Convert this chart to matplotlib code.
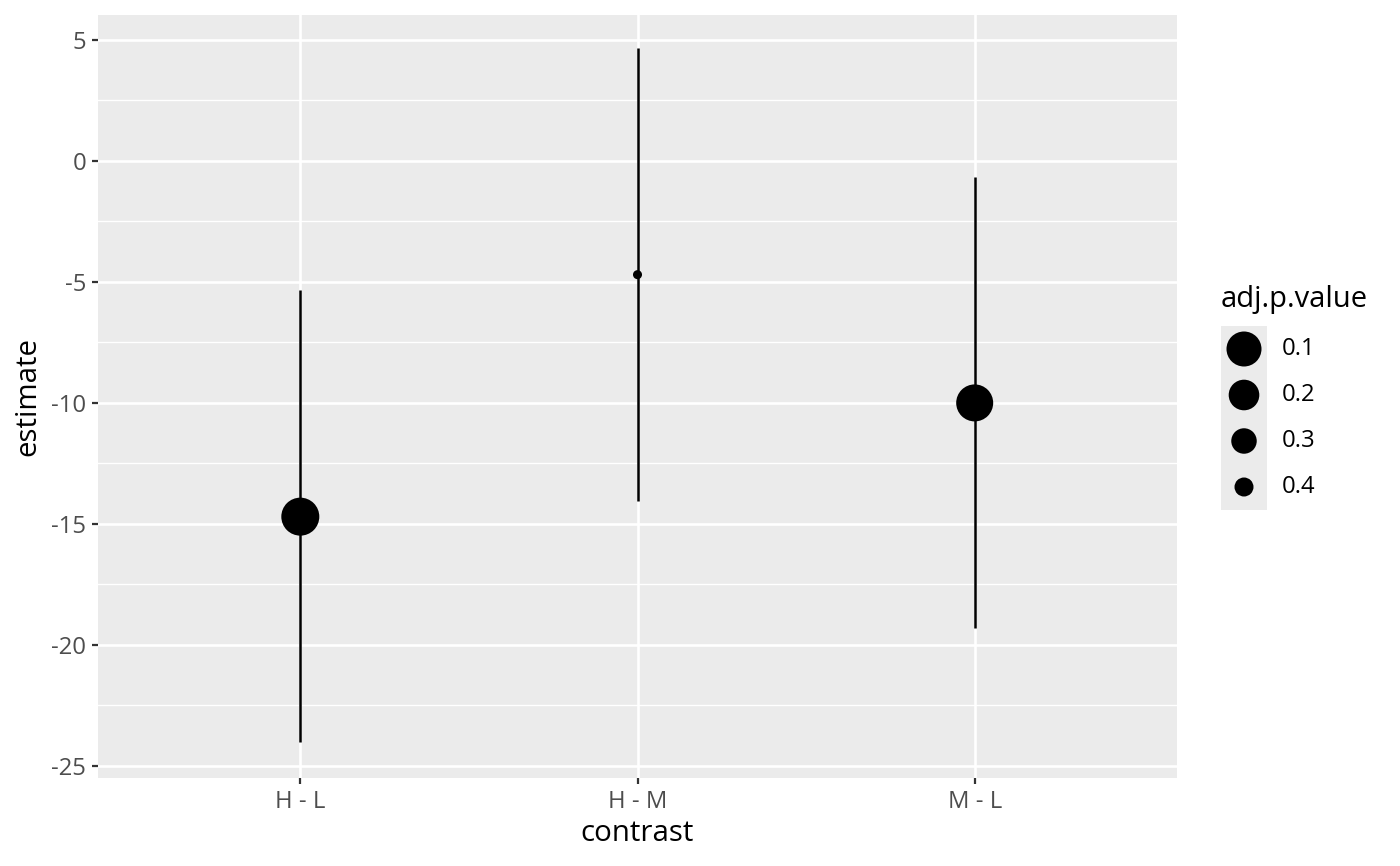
import numpy as np
import matplotlib.pyplot as plt

plt.rcParams['font.family'] = ['Open Sans', 'DejaVu Sans']
plt.rcParams['axes.unicode_minus'] = False

contrast = ['H - L', 'H - M', 'M - L']
estimate = [-14.7, -4.7, -10.0]
conf_low = [-24.0, -14.05, -19.3]
conf_high = [-5.35, 4.65, -0.65]
adj_p_value = [0.024, 0.497, 0.05]

legend_breaks = [0.1, 0.2, 0.3, 0.4]


def p_to_size(p):
    # reversed area scale, diameter in px -> points^2 at dpi 100
    d_px = np.sqrt(np.clip(1513 - 2880 * np.asarray(p), 1, None))
    return (d_px * 0.72) ** 2


fig = plt.figure(figsize=(14, 8.66), dpi=100)
ax = fig.add_axes([98 / 1400, 1 - 778 / 866, (1177 - 98) / 1400, (778 - 15) / 866])
ax.set_facecolor('#EBEBEB')

x = np.arange(1, len(contrast) + 1)
ax.vlines(x, conf_low, conf_high, color='black', lw=1.8, zorder=3)
ax.scatter(x, estimate, s=p_to_size(adj_p_value), color='black', linewidths=0, zorder=4)

ax.set_xlim(0.4, 3.6)
ax.set_ylim(-25.5, 6.03)
ax.set_xticks(x)
ax.set_xticklabels(contrast)
ax.set_yticks([5, 0, -5, -10, -15, -20, -25])
ax.set_yticks([2.5, -2.5, -7.5, -12.5, -17.5, -22.5], minor=True)
ax.grid(which='major', color='white', lw=1.9)
ax.grid(which='minor', axis='y', color='white', lw=0.95)
ax.set_axisbelow(True)
for s in ax.spines.values():
    s.set_visible(False)
ax.tick_params(which='major', length=4.5, width=1.6, color='#333333',
               labelcolor='#4D4D4D', labelsize=17.2, pad=4)
ax.tick_params(which='minor', length=0)
ax.set_xlabel('contrast', fontsize=21.2, labelpad=4)
ax.set_ylabel('estimate', fontsize=21.2, labelpad=6)

# legend drawn in pixel coordinates
lg = fig.add_axes([0, 0, 1, 1], facecolor='none')
lg.set_xlim(0, 1400)
lg.set_ylim(866, 0)
lg.axis('off')
lg.add_patch(plt.Rectangle((1221, 326), 46, 184, facecolor='#EBEBEB', edgecolor='none'))
lg.text(1221, 299, 'adj.p.value', fontsize=21, va='center', ha='left')
key_y = [349, 395, 441, 487]
lg.scatter([1244] * 4, key_y, s=p_to_size(legend_breaks), color='black', linewidths=0)
for yy, b in zip(key_y, legend_breaks):
    lg.text(1282, yy, str(b), fontsize=17.2, va='center', ha='left')

fig.savefig('out.png', dpi=100)
